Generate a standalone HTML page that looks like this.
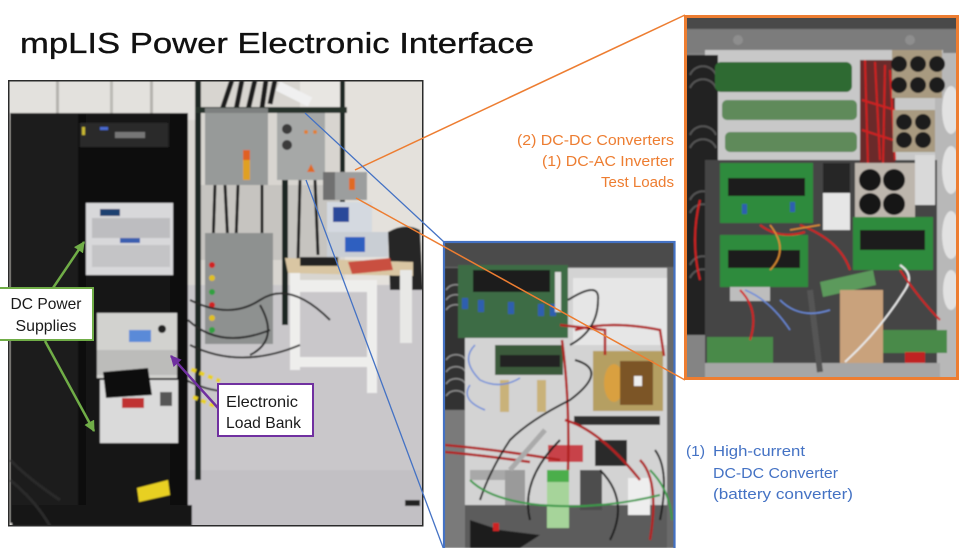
<!DOCTYPE html>
<html><head><meta charset="utf-8"><style>
html,body{margin:0;padding:0;background:#fff;width:975px;height:548px;overflow:hidden}
svg{display:block}
</style></head><body>
<svg width="975" height="548" viewBox="0 0 975 548" xmlns="http://www.w3.org/2000/svg" font-family="Liberation Sans, sans-serif">
<defs>
<clipPath id="cL"><rect x="8" y="80" width="415" height="446"/></clipPath>
<clipPath id="cB"><rect x="443" y="241" width="232" height="307"/></clipPath>
<clipPath id="cO"><rect x="684" y="15" width="275" height="365"/></clipPath>
<filter id="bl" x="-5%" y="-5%" width="110%" height="110%"><feGaussianBlur stdDeviation="0.8"/></filter>
<marker id="mg" viewBox="0 0 10 10" refX="9" refY="5" markerUnits="userSpaceOnUse" markerWidth="11" markerHeight="11" orient="auto"><path d="M0,0 L10,5 L0,10 z" fill="#70ad47"/></marker>
<marker id="mp" viewBox="0 0 10 10" refX="9" refY="5" markerUnits="userSpaceOnUse" markerWidth="11" markerHeight="11" orient="auto"><path d="M0,0 L10,5 L0,10 z" fill="#7030a0"/></marker>
</defs>

<rect x="0" y="0" width="975" height="548" fill="#ffffff"/>

<!-- Title -->
<text x="20" y="53" font-size="28.5" fill="#111" stroke="#111" stroke-width="0.35" textLength="514" lengthAdjust="spacingAndGlyphs">mpLIS Power Electronic Interface</text>

<!-- ============ LEFT PHOTO ============ -->
<g clip-path="url(#cL)"><g filter="url(#bl)">
<rect x="8" y="80" width="415" height="446" fill="#d8d5d0"/>
<rect x="8" y="80" width="190" height="40" fill="#e3e1dd"/>
<rect x="56" y="80" width="3" height="35" fill="#b5b3ae"/>
<rect x="110" y="80" width="3" height="35" fill="#bcbab5"/>
<rect x="150" y="80" width="3" height="35" fill="#b5b3ae"/>
<rect x="345" y="80" width="78" height="210" fill="#e4e1dc"/>
<rect x="300" y="80" width="40" height="30" fill="#e8e6e2"/>
<rect x="200" y="185" width="140" height="75" fill="#c6c4c0"/>
<!-- floor -->
<rect x="180" y="285" width="243" height="241" fill="#c9c7ca"/>
<rect x="180" y="470" width="243" height="56" fill="#c2c0c4"/>
<!-- ceiling cables -->
<path d="M232,80 L222,110 M242,80 L236,110 M255,80 L248,110 M266,80 L262,108 M275,80 L270,104" stroke="#1a1a1a" stroke-width="5" fill="none"/>
<path d="M278,86 L310,102" stroke="#f0f0f0" stroke-width="10"/>
<!-- posts -->
<rect x="195" y="80" width="6" height="400" fill="#1e2822"/>
<rect x="340" y="80" width="5" height="175" fill="#1e2822"/>
<rect x="282" y="175" width="6" height="150" fill="#1e2822"/>
<rect x="195" y="107" width="152" height="6" fill="#27302a"/>
<!-- cables below cabinets -->
<path d="M215,185 L213,245 M225,185 L228,245 M238,185 L236,240 M262,185 L262,235 M300,180 L298,260 M315,180 L318,255" stroke="#1c1c1c" stroke-width="3" fill="none"/>
<!-- cabinet 1 -->
<rect x="205" y="108" width="63" height="77" fill="#979a99"/>
<rect x="205" y="108" width="63" height="5" fill="#7d807f"/>
<rect x="243" y="150" width="7" height="30" fill="#e0a020"/>
<rect x="243" y="150" width="7" height="10" fill="#e06020"/>
<!-- cabinet 2 -->
<rect x="277" y="113" width="48" height="67" fill="#a6a8a7"/>
<circle cx="287" cy="129" r="5" fill="#3a3a3a"/>
<circle cx="287" cy="145" r="5" fill="#3a3a3a"/>
<circle cx="306" cy="132" r="2" fill="#e08030"/>
<circle cx="315" cy="132" r="2" fill="#e08030"/>
<path d="M307,172 L311,164 L315,172 z" fill="#e06a20"/>
<!-- cabinet 3 -->
<rect x="323" y="172" width="44" height="28" fill="#9c9e9e"/>
<rect x="323" y="172" width="12" height="28" fill="#707070"/>
<rect x="349" y="178" width="6" height="12" fill="#e06a20"/>
<!-- oscilloscope -->
<rect x="327" y="202" width="45" height="30" fill="#d4d9e0"/>
<rect x="333" y="207" width="16" height="15" fill="#2a4a9a"/>
<!-- instrument -->
<rect x="327" y="232" width="61" height="25" fill="#c9ced4"/>
<rect x="345" y="237" width="20" height="15" fill="#2f5fc0"/>
<!-- chair -->
<path d="M388,232 Q405,222 420,230 L423,290 L390,290 z" fill="#262626"/>
<!-- lower grey box -->
<rect x="205" y="233" width="68" height="111" fill="#8e9190"/>
<circle cx="212" cy="265" r="3" fill="#d02020"/>
<circle cx="212" cy="278" r="3" fill="#e0c020"/>
<circle cx="212" cy="292" r="3" fill="#30a040"/>
<circle cx="212" cy="305" r="3" fill="#d02020"/>
<circle cx="212" cy="318" r="3" fill="#e0c020"/>
<circle cx="212" cy="330" r="3" fill="#30a040"/>
<!-- table -->
<path d="M285,258 L413,262 L413,276 L288,273 z" fill="#d9c6a3"/>
<rect x="290" y="273" width="10" height="97" fill="#eeeeec"/>
<rect x="367" y="280" width="10" height="113" fill="#eeeeec"/>
<rect x="400" y="270" width="12" height="73" fill="#e8e8e6"/>
<rect x="290" y="357" width="87" height="10" fill="#eeeeec"/>
<rect x="290" y="280" width="87" height="12" fill="#eeeeec"/>
<rect x="300" y="257" width="38" height="9" fill="#202020"/>
<path d="M348,262 L390,258 L393,270 L352,274 z" fill="#c95040"/>
<!-- floor cables -->
<path d="M190,300 Q230,320 260,300 T330,320 M188,320 Q220,350 270,330 M190,345 Q240,370 300,345 M186,380 Q215,395 240,390 M260,305 Q280,340 250,355" stroke="#252525" stroke-width="2" fill="none"/>
<path d="M183,366 L220,381 M193,397 L217,407" stroke="#e8d020" stroke-width="4" stroke-dasharray="5,4" fill="none"/>
<!-- rack -->
<rect x="10" y="113" width="178" height="410" fill="#151515"/>
<rect x="10" y="113" width="70" height="410" fill="#1d1d1d"/>
<rect x="78" y="113" width="8" height="410" fill="#0e0e0e"/>
<rect x="170" y="113" width="18" height="410" fill="#0f0f0f"/>
<rect x="80" y="123" width="88" height="24" fill="#2b2b2b"/>
<rect x="100" y="127" width="8" height="3" fill="#4a6ad0"/>
<rect x="115" y="132" width="30" height="6" fill="#777"/>
<rect x="82" y="127" width="3" height="8" fill="#c8b830"/>
<rect x="86" y="147" width="84" height="56" fill="#0a0a0a"/>
<!-- PSU1 -->
<rect x="86" y="203" width="87" height="72" fill="#d8d8da"/>
<rect x="92" y="218" width="78" height="20" fill="#bdbdc0"/>
<rect x="92" y="245" width="78" height="22" fill="#c4c4c6"/>
<rect x="100" y="209" width="20" height="7" fill="#1f3f70"/>
<rect x="120" y="238" width="20" height="5" fill="#3a5fb0"/>
<!-- electronic load -->
<rect x="97" y="313" width="80" height="65" fill="#d2d2cf"/>
<rect x="129" y="330" width="22" height="12" fill="#5a8ad8"/>
<circle cx="162" cy="329" r="4" fill="#222"/>
<rect x="97" y="350" width="80" height="25" fill="#bcbcba"/>
<!-- lower PSU -->
<rect x="100" y="380" width="78" height="63" fill="#dadada"/>
<path d="M103,372 L148,368 L152,395 L106,398 z" fill="#111"/>
<rect x="122" y="398" width="22" height="10" fill="#c03030"/>
<rect x="160" y="392" width="12" height="14" fill="#555"/>
<!-- rack base -->
<rect x="12" y="505" width="180" height="21" fill="#121212"/>
<path d="M137,488 L168,480 L170,495 L139,502 z" fill="#e8d020"/>
<path d="M10,460 Q30,480 60,500 M10,480 Q35,500 50,526" stroke="#2a2a2a" stroke-width="3" fill="none"/>
<rect x="405" y="500" width="15" height="6" fill="#222"/>
</g></g>
<rect x="8.75" y="80.75" width="414" height="445" fill="none" stroke="#2a2a2a" stroke-width="1.5"/>

<!-- ============ BLUE PHOTO ============ -->
<g clip-path="url(#cB)"><g filter="url(#bl)">
<rect x="443" y="241" width="232" height="307" fill="#6a6a6a"/>
<rect x="443" y="241" width="232" height="26" fill="#4c4c4c"/>
<rect x="444" y="268" width="24" height="142" fill="#333"/>
<path d="M446,290 a12,12 0 0,1 20,0 M446,300 a12,12 0 0,1 20,0 M446,310 a12,12 0 0,1 20,0 M446,360 a12,12 0 0,1 20,0 M446,372 a12,12 0 0,1 20,0 M446,384 a12,12 0 0,1 20,0 M446,396 a12,12 0 0,1 20,0" stroke="#8a8a8a" stroke-width="1.5" fill="none"/>
<rect x="444" y="410" width="21" height="138" fill="#7a7a7a"/>
<rect x="465" y="268" width="202" height="248" fill="#d3d3d3"/>
<rect x="573" y="278" width="94" height="67" fill="#e6e6e6"/>
<rect x="465" y="505" width="202" height="43" fill="#5c5c5c"/>
<!-- PCB1 -->
<rect x="458" y="265" width="110" height="73" fill="#3e6c44"/>
<rect x="473" y="270" width="77" height="22" fill="#1c1c1c"/>
<rect x="462" y="298" width="6" height="11" fill="#2d5fb0"/>
<rect x="478" y="300" width="6" height="12" fill="#2d5fb0"/>
<rect x="508" y="302" width="6" height="12" fill="#2d5fb0"/>
<rect x="538" y="304" width="6" height="12" fill="#2d5fb0"/>
<rect x="550" y="304" width="6" height="12" fill="#2d5fb0"/>
<rect x="555" y="272" width="6" height="40" fill="#ddd"/>
<!-- PCB2 -->
<rect x="495" y="345" width="68" height="30" fill="#3a5a3a"/>
<rect x="500" y="355" width="60" height="12" fill="#222"/>
<rect x="500" y="380" width="9" height="32" fill="#c9b27a"/>
<rect x="537" y="380" width="9" height="32" fill="#c9b27a"/>
<!-- transformer -->
<rect x="593" y="351" width="70" height="60" fill="#b59f62"/>
<ellipse cx="614" cy="383" rx="10" ry="19" fill="#d9a040"/>
<rect x="620" y="361" width="33" height="44" fill="#7b5428"/>
<rect x="634" y="376" width="8" height="10" fill="#eee"/>
<rect x="574" y="416" width="86" height="9" fill="#2f2f2f"/>
<!-- lower -->
<rect x="548" y="445" width="35" height="17" fill="#c8424a"/>
<rect x="595" y="440" width="32" height="26" fill="#2b2b2b"/>
<rect x="470" y="470" width="35" height="10" fill="#a8a8a8"/>
<rect x="547" y="470" width="22" height="58" fill="#a6d49a"/>
<rect x="547" y="470" width="22" height="12" fill="#4cae4c"/>
<rect x="580" y="470" width="22" height="40" fill="#4d4d4d"/>
<rect x="628" y="478" width="22" height="37" fill="#eeeeee"/>
<rect x="505" y="470" width="20" height="35" fill="#9a9a9a"/>
<path d="M470,520 L500,530 L540,535 L520,548 L470,548 z" fill="#1e1e1e"/>
<rect x="493" y="523" width="6" height="8" fill="#d02020"/>
<!-- wires -->
<path d="M445,445 Q500,450 560,460 M575,330 Q610,320 660,330 L664,356 M560,325 L605,330 L605,355 M562,340 Q570,400 568,470 M565,420 Q600,430 640,480 M640,460 Q660,480 650,540 M445,452 Q480,455 530,462" stroke="#b02020" stroke-width="2.5" fill="none"/>
<path d="M568,300 Q600,280 598,300 Q598,330 570,345 M575,360 Q610,370 570,400 Q530,420 510,440 Q490,470 480,500 M560,440 Q520,480 530,520 M600,470 Q630,500 610,540 M655,450 Q670,470 660,520" stroke="#1c1c1c" stroke-width="2" fill="none"/>
<path d="M475,345 Q460,360 480,380 Q500,390 520,378 M470,385 Q460,400 485,410" stroke="#6a8ad8" stroke-width="1.5" fill="none"/>
<path d="M470,480 Q490,500 540,505 Q600,510 660,495 M650,470 Q670,490 672,520" stroke="#3a9a4a" stroke-width="2" fill="none"/>
<path d="M510,470 L545,430" stroke="#aaa" stroke-width="5"/>
</g></g>

<!-- ============ ORANGE PHOTO ============ -->
<g clip-path="url(#cO)"><g filter="url(#bl)">
<rect x="684" y="15" width="275" height="365" fill="#848484"/>
<rect x="684" y="15" width="275" height="14" fill="#4a4a4a"/>
<rect x="684" y="29" width="275" height="24" fill="#7c7c7c"/>
<circle cx="738" cy="40" r="5" fill="#8e8e8e"/>
<circle cx="910" cy="40" r="5" fill="#8e8e8e"/>
<rect x="705" y="50" width="238" height="112" fill="#c8c8c8"/>
<rect x="935" y="53" width="24" height="325" fill="#b8b8b8"/>
<ellipse cx="951" cy="110" rx="9" ry="24" fill="#e2e2e2"/>
<ellipse cx="951" cy="170" rx="9" ry="24" fill="#e2e2e2"/>
<ellipse cx="951" cy="235" rx="9" ry="24" fill="#e2e2e2"/>
<ellipse cx="951" cy="290" rx="8" ry="20" fill="#e2e2e2"/>
<rect x="686" y="55" width="32" height="280" fill="#222"/>
<path d="M690,75 a14,14 0 0,1 26,0 M690,88 a14,14 0 0,1 26,0 M690,135 a14,14 0 0,1 26,0 M690,148 a14,14 0 0,1 26,0 M690,200 a14,14 0 0,1 26,0 M690,213 a14,14 0 0,1 26,0 M690,265 a14,14 0 0,1 26,0 M690,278 a14,14 0 0,1 26,0" stroke="#555" stroke-width="2" fill="none"/>
<rect x="705" y="160" width="232" height="205" fill="#444"/>
<!-- resistors -->
<rect x="715" y="62" width="137" height="30" rx="6" fill="#2f6b30"/>
<rect x="722" y="100" width="135" height="20" rx="5" fill="#5e8a5a"/>
<rect x="725" y="132" width="132" height="20" rx="5" fill="#5e8a5a"/>
<!-- red wire cluster -->
<rect x="860" y="60" width="35" height="105" fill="#6a2a2a"/>
<path d="M865,60 L868,165 M875,62 L880,160 M885,65 L883,165 M890,70 L895,160 M862,100 L895,110 M862,130 L893,140" stroke="#d02020" stroke-width="2" fill="none"/>
<!-- caps -->
<rect x="892" y="50" width="50" height="48" fill="#a89a80"/>
<circle cx="899" cy="64" r="8" fill="#1c1c1c"/>
<circle cx="918" cy="64" r="8" fill="#1c1c1c"/>
<circle cx="937" cy="64" r="8" fill="#1c1c1c"/>
<circle cx="899" cy="85" r="8" fill="#1c1c1c"/>
<circle cx="918" cy="85" r="8" fill="#1c1c1c"/>
<circle cx="937" cy="85" r="8" fill="#1c1c1c"/>
<rect x="893" y="110" width="42" height="42" fill="#a89a80"/>
<circle cx="904" cy="122" r="8" fill="#1c1c1c"/>
<circle cx="923" cy="122" r="8" fill="#1c1c1c"/>
<circle cx="904" cy="140" r="8" fill="#1c1c1c"/>
<circle cx="923" cy="140" r="8" fill="#1c1c1c"/>
<rect x="915" y="155" width="20" height="50" fill="#d9d9d9"/>
<rect x="855" y="163" width="60" height="58" fill="#bdb6ad"/>
<circle cx="870" cy="180" r="11" fill="#161616"/>
<circle cx="894" cy="180" r="11" fill="#161616"/>
<circle cx="870" cy="204" r="11" fill="#161616"/>
<circle cx="894" cy="204" r="11" fill="#161616"/>
<rect x="823" y="163" width="27" height="67" fill="#e6e6e6"/>
<rect x="823" y="163" width="27" height="30" fill="#262626"/>
<!-- PCBs -->
<rect x="720" y="163" width="93" height="60" fill="#2e8b3e"/>
<rect x="728" y="178" width="77" height="18" fill="#1a1a1a"/>
<rect x="742" y="204" width="5" height="10" fill="#2d5fb0"/>
<rect x="790" y="202" width="5" height="10" fill="#2d5fb0"/>
<rect x="720" y="235" width="88" height="52" fill="#2e8b3e"/>
<rect x="728" y="250" width="72" height="18" fill="#1a1a1a"/>
<rect x="853" y="217" width="80" height="53" fill="#2e8b3e"/>
<rect x="860" y="230" width="65" height="20" fill="#1a1a1a"/>
<path d="M820,282 L873,270 L876,285 L823,297 z" fill="#5c9a5c"/>
<rect x="730" y="287" width="40" height="14" fill="#bdbdbd"/>
<rect x="840" y="290" width="43" height="80" fill="#c9a27c"/>
<rect x="707" y="337" width="66" height="26" fill="#4a8a4a"/>
<rect x="883" y="330" width="64" height="23" fill="#4a8a4a"/>
<rect x="905" y="352" width="20" height="18" fill="#c02020"/>
<rect x="705" y="363" width="235" height="15" fill="#a6a6a6"/>
<path d="M810,290 L820,372" stroke="#555" stroke-width="6"/>
<path d="M845,362 Q880,330 905,290 Q915,275 900,265" stroke="#e8e8e8" stroke-width="2" fill="none"/>
<path d="M700,200 Q690,240 700,280 M760,225 Q780,240 805,232 M740,290 Q760,310 750,340 M800,225 Q840,240 850,270 M900,270 Q920,300 940,320" stroke="#d02020" stroke-width="2" fill="none"/>
<path d="M745,290 Q770,300 790,330 M780,300 Q800,320 830,310" stroke="#6a8ad8" stroke-width="1.5" fill="none"/>
<path d="M790,230 L820,225 M770,225 Q790,250 770,270" stroke="#e09030" stroke-width="1.5" fill="none"/>
</g></g>

<!-- photo borders -->
<rect x="444" y="242" width="230.5" height="310" fill="none" stroke="#4472c4" stroke-width="2.2"/>
<rect x="685.5" y="16.5" width="272" height="362" fill="none" stroke="#ed7d31" stroke-width="3"/>

<!-- connector lines -->
<line x1="685" y1="15" x2="355" y2="170" stroke="#ed7d31" stroke-width="1.5"/>
<line x1="356" y1="198" x2="685" y2="380" stroke="#ed7d31" stroke-width="1.5"/>
<line x1="305" y1="113" x2="444" y2="242" stroke="#4472c4" stroke-width="1.3"/>
<line x1="306" y1="180" x2="444" y2="550" stroke="#4472c4" stroke-width="1.3"/>

<!-- arrows -->
<line x1="53" y1="288" x2="84" y2="242" stroke="#70ad47" stroke-width="2.5" marker-end="url(#mg)"/>
<line x1="45" y1="341" x2="94" y2="431" stroke="#70ad47" stroke-width="2.5" marker-end="url(#mg)"/>
<line x1="218" y1="408" x2="171" y2="356" stroke="#7030a0" stroke-width="2.5" marker-end="url(#mp)"/>

<!-- callout boxes -->
<rect x="-1" y="288" width="94" height="52" fill="#ffffff" stroke="#70ad47" stroke-width="2"/>
<text x="46" y="309" font-size="16" fill="#1a1a1a" text-anchor="middle" textLength="71" lengthAdjust="spacingAndGlyphs">DC Power</text>
<text x="46" y="331" font-size="16" fill="#1a1a1a" text-anchor="middle" textLength="61" lengthAdjust="spacingAndGlyphs">Supplies</text>

<rect x="218" y="384" width="95" height="52" fill="#ffffff" stroke="#7030a0" stroke-width="2"/>
<text x="226" y="407" font-size="16" fill="#1a1a1a" textLength="72" lengthAdjust="spacingAndGlyphs">Electronic</text>
<text x="226" y="428" font-size="16" fill="#1a1a1a" textLength="75" lengthAdjust="spacingAndGlyphs">Load Bank</text>

<!-- orange labels -->
<text x="674" y="145" font-size="15" fill="#ed7d31" text-anchor="end" textLength="157" lengthAdjust="spacingAndGlyphs">(2) DC-DC Converters</text>
<text x="674" y="166" font-size="15" fill="#ed7d31" text-anchor="end" textLength="132" lengthAdjust="spacingAndGlyphs">(1) DC-AC Inverter</text>
<text x="674" y="187" font-size="15" fill="#ed7d31" text-anchor="end" textLength="73" lengthAdjust="spacingAndGlyphs">Test Loads</text>

<!-- blue labels -->
<text x="686" y="456" font-size="15" fill="#4472c4" textLength="19" lengthAdjust="spacingAndGlyphs">(1)</text>
<text x="713" y="456" font-size="15" fill="#4472c4" textLength="92" lengthAdjust="spacingAndGlyphs">High-current</text>
<text x="713" y="478" font-size="15" fill="#4472c4" textLength="125" lengthAdjust="spacingAndGlyphs">DC-DC Converter</text>
<text x="713" y="499" font-size="15" fill="#4472c4" textLength="140" lengthAdjust="spacingAndGlyphs">(battery converter)</text>
</svg>
</body></html>
